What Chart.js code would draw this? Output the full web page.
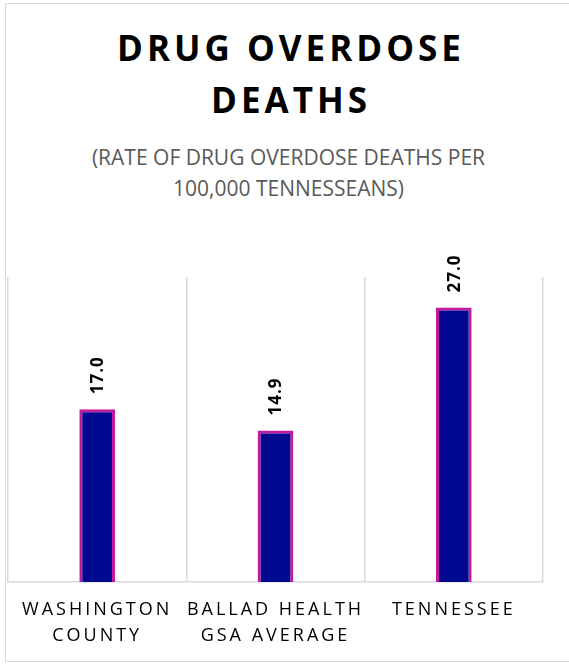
<!DOCTYPE html>
<html>
<head>
<meta charset="utf-8">
<script src="https://cdn.jsdelivr.net/npm/chart.js@4"></script>
<style>
  html, body { margin: 0; padding: 0; background: #fff; }
  body { width: 569px; height: 664px; overflow: hidden; position: relative; font-family: "Open Sans", sans-serif; }
  .frame { position: absolute; left: 5px; top: 3px; width: 600px; height: 659px; border: 1px solid #d9d9d9; box-sizing: border-box; }
  .title { position: absolute; left: 0; top: 22px; width: 582px; text-align: center; font-size: 35px; font-weight: 700; line-height: 52px; letter-spacing: 4px; color: #000; }
  .subtitle { position: absolute; left: 0; top: 142px; width: 577px; text-align: center; font-size: 21px; line-height: 31px; color: #595959; }
  canvas { position: absolute; left: 0; top: 0; }
</style>
</head>
<body>
<div class="frame"></div>
<div class="title">DRUG OVERDOSE<br>DEATHS</div>
<div class="subtitle">(RATE OF DRUG OVERDOSE DEATHS PER<br>100,000 TENNESSEANS)</div>
<canvas id="chart" width="569" height="664"></canvas>
<script>
const categories = [["WASHINGTON", "COUNTY"], ["BALLAD HEALTH", "GSA AVERAGE"], ["TENNESSEE"]];
const deathRates = [17.0, 14.9, 27.0];
const yMin = 0;
const yMax = 30;

// spaced-out capitals on the axis labels
const spacing = {
    id: "spacing",
    beforeDraw(chart) {
        chart.ctx.letterSpacing = "3px";
    }
};

// rotated value labels above each bar
const valueLabels = {
    id: "valueLabels",
    afterDatasetsDraw(chart) {
        const ctx = chart.ctx;
        const meta = chart.getDatasetMeta(0);
        ctx.save();
        ctx.letterSpacing = "1px";
        ctx.font = "bold 17px 'Open Sans'";
        ctx.fillStyle = "#000";
        ctx.textAlign = "left";
        ctx.textBaseline = "middle";
        meta.data.forEach((bar, i) => {
            ctx.save();
            ctx.translate(bar.x + 1, bar.y - 15);
            ctx.rotate(-Math.PI / 2);
            ctx.fillText(deathRates[i].toFixed(1), 0, 0);
            ctx.restore();
        });
        ctx.restore();
    }
};

new Chart(document.getElementById("chart"), {
    type: "bar",
    data: {
        labels: categories,
        datasets: [{
            data: deathRates,
            backgroundColor: "#00088f",
            borderColor: "#c8179f",
            borderWidth: 3,
            barPercentage: 0.2,
            categoryPercentage: 1
        }]
    },
    options: {
        responsive: false,
        animation: false,
        devicePixelRatio: 1,
        layout: {
            padding: { left: 8, right: 26, top: 277, bottom: 15 }
        },
        plugins: {
            legend: { display: false },
            tooltip: { enabled: false }
        },
        scales: {
            x: {
                afterFit(scale) { scale.height = 67; },
                grid: { display: true, offset: true, color: "#d9d9d9", lineWidth: 1.5, drawTicks: false },
                border: { display: true, color: "#d9d9d9", width: 1.5 },
                ticks: {
                    color: "#000",
                    font: { family: "'Open Sans'", size: 18, lineHeight: 26 / 18 },
                    padding: 15,
                    maxRotation: 0,
                    minRotation: 0,
                    autoSkip: false
                }
            },
            y: {
                display: false,
                min: yMin,
                max: yMax
            }
        }
    },
    plugins: [spacing, valueLabels]
});
</script>
</body>
</html>
